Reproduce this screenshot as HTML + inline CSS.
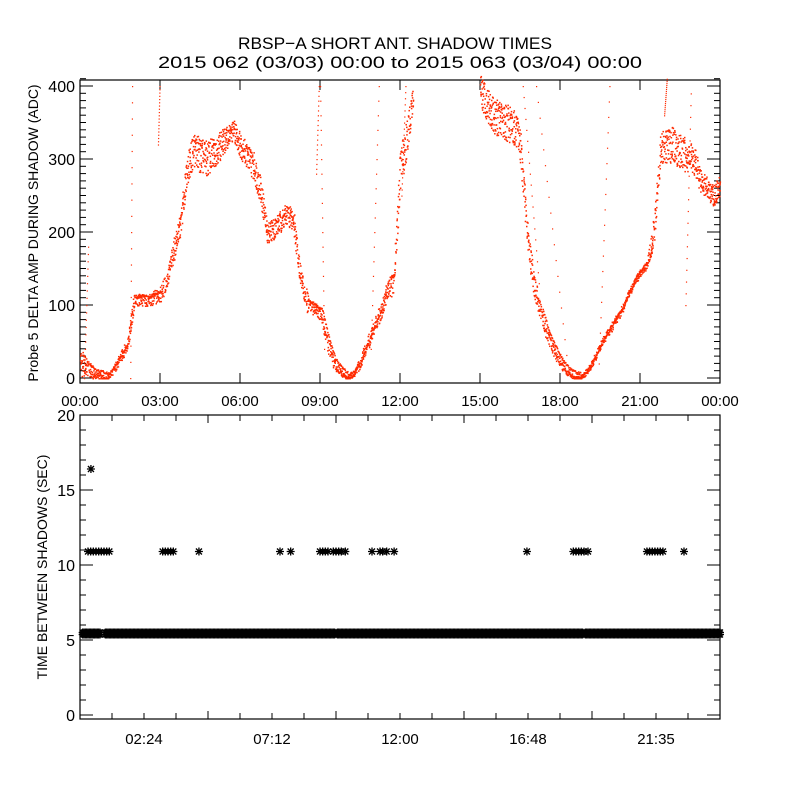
<!DOCTYPE html>
<html><head><meta charset="utf-8"><style>
html,body{margin:0;padding:0;background:#fff;}
svg{display:block;font-family:"Liberation Sans",sans-serif;}
</style></head><body>
<svg id="chart" width="800" height="800" viewBox="0 0 800 800" xmlns="http://www.w3.org/2000/svg">
<rect width="800" height="800" fill="#fff"/>
<text x="238" y="49" font-size="17" textLength="314" lengthAdjust="spacingAndGlyphs">RBSP−A SHORT ANT. SHADOW TIMES</text>
<text x="158" y="68" font-size="17" textLength="484" lengthAdjust="spacingAndGlyphs">2015 062 (03/03) 00:00 to 2015 063 (03/04) 00:00</text>
<g id="topPlot"></g>
<g id="botPlot"></g>
</svg>
<script>
// ---- top plot data (hours, ADC) ----
const ampTimes = [0,0.25,0.5,0.75,1.0,1.25,1.5,1.75,2.0,2.25,2.5,2.75,3.0,3.25,3.5,3.75,4.0,4.25,4.5,4.75,5.0,5.25,5.5,5.75,6.0,6.25,6.5,6.75,7.0,7.25,7.5,7.75,8.0,8.25,8.5,8.75,9.0,9.25,9.5,9.75,10.0,10.25,10.5,10.75,11.0,11.25,11.5,11.75,12.0,12.25,12.5,
 15.0,15.25,15.5,15.75,16.0,16.25,16.5,16.75,17.0,17.25,17.5,17.75,18.0,18.25,18.5,18.75,19.0,19.25,19.5,19.75,20.0,20.25,20.5,20.75,21.0,21.25,21.5,21.75,22.0,22.25,22.5,23.0,23.25,23.5,23.75,24.0];
const ampValues = [22,15,5,3,0,12,28,45,105,108,105,110,115,135,175,210,285,315,305,300,310,320,330,340,320,305,290,260,200,205,215,225,215,140,100,95,88,50,20,8,0,5,22,45,70,90,120,130,290,330,390,
 395,375,360,355,350,345,320,200,130,90,60,38,20,8,2,0,8,25,45,60,75,90,110,130,145,155,200,310,320,320,310,300,275,260,250,265];
const ampSpread = [20,12,6,4,2,6,8,8,10,8,8,10,12,12,15,15,20,25,25,25,22,20,15,15,18,18,20,20,15,15,15,15,18,15,10,8,8,10,8,5,2,4,8,10,10,12,15,15,30,25,15,
 20,25,25,25,25,25,25,20,18,12,10,8,6,4,3,2,4,6,6,6,6,6,6,6,5,5,20,25,25,25,25,20,20,15,15,15];
// sparse streaks: [t0, v0, t1, v1]
const streakT0 = [0.15,1.88,2.92,8.85,9.0,10.9,12.05,16.6,17.1,19.45,21.9,22.7];
const streakV0 = [0,0,320,280,400,40,250,400,400,20,360,100];
const streakT1 = [0.3,1.95,2.98,8.95,9.15,11.2,12.2,17.2,18.3,19.85,22.0,22.9];
const streakV1 = [180,400,400,400,40,400,400,130,10,400,410,390];
const topXTicks = ["00:00","03:00","06:00","09:00","12:00","15:00","18:00","21:00","00:00"];
const topYTicks = [0,100,200,300,400];
// ---- bottom plot data ----
const bandStarts = [0.1,0.95,9.65,18.95];
const bandEnds = [0.75,9.55,18.85,24.0];
const bandValue = 5.5;
const longTimes = [0.3,0.4,0.5,0.6,0.7,0.8,0.9,1.0,1.1,3.1,3.2,3.3,3.4,3.5,4.46,7.5,7.9,9.0,9.1,9.2,9.3,9.5,9.6,9.7,9.8,9.95,10.95,11.25,11.35,11.5,11.78,16.76,18.5,18.6,18.7,18.8,18.9,19.05,21.26,21.36,21.46,21.56,21.66,21.76,21.86,22.65];
const longValue = 10.9;
const outTimes = [0.41];
const outValues = [16.4];
const botXTicks = ["02:24","07:12","12:00","16:48","21:35"];
const botYTicks = [0,5,10,15,20];

const NS="http://www.w3.org/2000/svg";
function mk(tag,attrs,parent){const e=document.createElementNS(NS,tag);for(const k in attrs)e.setAttribute(k,attrs[k]);parent.appendChild(e);return e;}
const X0=80,X1=720;
const xs=t=>X0+t/24*(X1-X0);
const yTop=v=>378-v*0.73;
const yBot=v=>715-v*15;
const topG=document.getElementById('topPlot'), botG=document.getElementById('botPlot');
function jit(n){const s=Math.sin(n*12.9898+78.233)*43758.5453;return (s-Math.floor(s))*2-1;}

// --- top axes ---
let e=mk('rect',{x:X0,y:80,width:X1-X0,height:303,fill:'none',stroke:'#000','stroke-width':1.2},topG);


for(let v=0;v<=410;v+=10){const y=yTop(v);const L=v%100===0?13:6;
 mk('line',{x1:X0,x2:X0+L,y1:y,y2:y,stroke:'#000'},topG);mk('line',{x1:X1,x2:X1-L,y1:y,y2:y,stroke:'#000'},topG);}
topYTicks.forEach(v=>{const t=mk('text',{x:75,y:yTop(v)+6,'font-size':16,'text-anchor':'end'},topG);t.textContent=v;
 
 });
topXTicks.forEach((s,i)=>{const x=X0+i*80;mk('line',{x1:x,x2:x,y1:383,y2:373,stroke:'#000'},topG);mk('line',{x1:x,x2:x,y1:80,y2:90,stroke:'#000'},topG);
 const t=mk('text',{x:x,y:406,'font-size':15,'text-anchor':'middle'},topG);t.textContent=s;
 
 });
e=mk('text',{x:0,y:0,'font-size':14,'text-anchor':'middle',transform:'translate(38,233) rotate(-90)'},topG);
e.textContent='Probe 5 DELTA AMP DURING SHADOW (ADC)';



// --- top scatter ---
const dots=mk('g',{fill:'#ff2a00'},topG);


let n=0;
for(let i=0;i<ampTimes.length-1;i++){
 const t0=ampTimes[i],t1=ampTimes[i+1];if(t1-t0>0.5)continue;
 const steps=Math.max(2,Math.round((t1-t0)*50));
 for(let s=0;s<steps;s++){const f=s/steps;
  const v=ampValues[i]+(ampValues[i+1]-ampValues[i])*f;const sp=ampSpread[i]+(ampSpread[i+1]-ampSpread[i])*f;
  const cnt=sp>12?3:2;
  for(let k=0;k<cnt;k++){n++;const t=t0+(t1-t0)*(f+jit(n*3.1)*0.5/steps);
   const off=jit(n)*sp;
   mk('rect',{x:xs(t),y:yTop(Math.max(0,v+off)),width:1.5,height:1.5},dots);}
  if(sp<12){n++;mk('rect',{x:xs(t0+(t1-t0)*f)+2,y:yTop(Math.max(0,v+6+jit(n)*2)),width:1.5,height:1.5},dots);}
 }}
for(let i=0;i<streakT0.length;i++){
 for(let s=0;s<=18;s++){const f=s/18;
  mk('rect',{x:xs(streakT0[i]+(streakT1[i]-streakT0[i])*f),y:yTop(streakV0[i]+(streakV1[i]-streakV0[i])*f),width:1.2,height:1.2},dots);}}

// --- bottom axes ---
e=mk('rect',{x:X0,y:415,width:X1-X0,height:304,fill:'none',stroke:'#000','stroke-width':1.2},botG);


for(let v=0;v<=20;v+=1){const y=yBot(v);const L=v%5===0?13:6;
 mk('line',{x1:X0,x2:X0+L,y1:y,y2:y,stroke:'#000'},botG);mk('line',{x1:X1,x2:X1-L,y1:y,y2:y,stroke:'#000'},botG);}
botYTicks.forEach(v=>{const t=mk('text',{x:75,y:yBot(v)+6,'font-size':16,'text-anchor':'end'},botG);t.textContent=v;
 
 });
for(let i=1;i<20;i++){const x=X0+i*32;const L=i%4===0?8:6;mk('line',{x1:x,x2:x,y1:719,y2:719-L,stroke:'#000'},botG);mk('line',{x1:x,x2:x,y1:415,y2:415+L,stroke:'#000'},botG);}
botXTicks.forEach((s,i)=>{const x=X0+64+i*128;const t=mk('text',{x:x,y:744,'font-size':15,'text-anchor':'middle'},botG);t.textContent=s;
 
 });
e=mk('text',{x:0,y:0,'font-size':14,'text-anchor':'middle',transform:'translate(47,567) rotate(-90)'},botG);
e.textContent='TIME BETWEEN SHADOWS (SEC)';



const stars=mk('g',{stroke:'#000','stroke-width':1.3},botG);


function star(x,y){const r=4;mk('path',{d:`M${x-r} ${y}H${x+r}M${x} ${y-r}V${y+r}M${x-3} ${y-3}L${x+3} ${y+3}M${x-3} ${y+3}L${x+3} ${y-3}`},stars);}
for(let i=0;i<bandStarts.length;i++){for(let t=bandStarts[i];t<=bandEnds[i]+1e-6;t+=0.05){star(xs(t),yBot(bandValue));star(xs(t),yBot(bandValue)+2);}}
longTimes.forEach(t=>star(xs(t),yBot(longValue)));
outTimes.forEach((t,i)=>star(xs(t),yBot(outValues[i])));
</script>
</body></html>
